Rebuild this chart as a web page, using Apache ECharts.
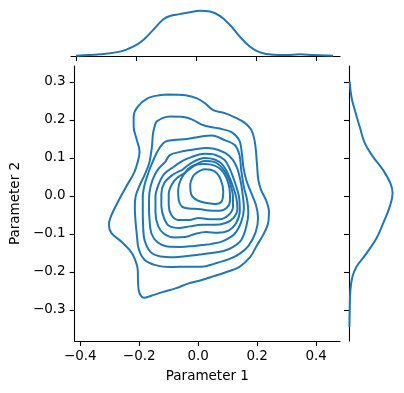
<!DOCTYPE html>
<html><head><meta charset="utf-8">
<script src="https://cdn.jsdelivr.net/npm/echarts@6/dist/echarts.min.js"></script>
<style>html,body{margin:0;padding:0;background:#fff}#c{width:404px;height:393px}</style>
</head><body><div id="c"></div>
<script>
// Tick labels
const xTicks = [-0.4, -0.2, 0, 0.2, 0.4];
const yTicks = [-0.3, -0.2, -0.1, 0, 0.1, 0.2, 0.3];
const xRange = [-0.419, 0.481];
const yRange = [-0.3816, 0.342];

// KDE contour levels (outer -> inner), [Parameter 1, Parameter 2]
const contour1 = [[-0.099,0.267],[-0.043,0.265],[-0.004,0.257],[0.023,0.244],[0.051,0.226],[0.090,0.218],[0.124,0.207],[0.157,0.193],[0.180,0.174],[0.191,0.147],[0.196,0.117],[0.200,0.077],[0.204,0.042],[0.213,0.016],[0.230,-0.011],[0.240,-0.041],[0.237,-0.072],[0.220,-0.103],[0.200,-0.129],[0.176,-0.161],[0.139,-0.187],[0.096,-0.200],[0.053,-0.211],[0.012,-0.221],[-0.032,-0.230],[-0.077,-0.243],[-0.121,-0.253],[-0.161,-0.263],[-0.183,-0.268],[-0.199,-0.256],[-0.204,-0.230],[-0.205,-0.195],[-0.216,-0.164],[-0.233,-0.142],[-0.261,-0.120],[-0.294,-0.098],[-0.303,-0.076],[-0.294,-0.050],[-0.272,-0.015],[-0.244,0.025],[-0.218,0.060],[-0.205,0.090],[-0.199,0.117],[-0.208,0.147],[-0.219,0.182],[-0.219,0.209],[-0.205,0.235],[-0.172,0.257],[-0.132,0.265]];
const contour2 = [[-0.143,0.195],[-0.121,0.205],[-0.095,0.209],[-0.049,0.208],[-0.015,0.199],[0.018,0.186],[0.068,0.178],[0.113,0.168],[0.139,0.147],[0.148,0.113],[0.153,0.077],[0.163,0.042],[0.180,0.008],[0.196,-0.024],[0.203,-0.058],[0.195,-0.095],[0.170,-0.132],[0.139,-0.153],[0.102,-0.167],[0.056,-0.178],[0.012,-0.186],[-0.038,-0.186],[-0.095,-0.187],[-0.145,-0.182],[-0.182,-0.168],[-0.202,-0.139],[-0.208,-0.103],[-0.213,-0.063],[-0.215,-0.029],[-0.212,0.000],[-0.198,0.029],[-0.182,0.055],[-0.166,0.087],[-0.157,0.129],[-0.153,0.166]];
const contour3 = [[-0.128,0.130],[-0.111,0.143],[-0.082,0.147],[-0.038,0.150],[0.006,0.156],[0.046,0.159],[0.090,0.147],[0.124,0.134],[0.140,0.108],[0.146,0.068],[0.155,0.024],[0.166,-0.011],[0.170,-0.045],[0.163,-0.081],[0.146,-0.116],[0.119,-0.134],[0.086,-0.145],[0.046,-0.150],[0.006,-0.154],[-0.038,-0.158],[-0.081,-0.161],[-0.128,-0.159],[-0.162,-0.147],[-0.182,-0.116],[-0.187,-0.076],[-0.188,-0.037],[-0.188,-0.003],[-0.182,0.029],[-0.168,0.063],[-0.155,0.089],[-0.141,0.113]];
const contour4 = [[-0.111,0.090],[-0.095,0.108],[-0.061,0.116],[-0.015,0.122],[0.029,0.126],[0.069,0.121],[0.106,0.105],[0.129,0.079],[0.143,0.042],[0.151,0.003],[0.155,-0.032],[0.146,-0.068],[0.123,-0.100],[0.086,-0.118],[0.046,-0.126],[0.012,-0.129],[-0.021,-0.132],[-0.061,-0.134],[-0.105,-0.133],[-0.138,-0.122],[-0.158,-0.100],[-0.165,-0.063],[-0.167,-0.024],[-0.165,0.011],[-0.155,0.042],[-0.138,0.068]];
const contour5 = [[-0.084,0.076],[-0.055,0.092],[-0.021,0.103],[0.022,0.111],[0.059,0.108],[0.089,0.095],[0.109,0.068],[0.126,0.032],[0.139,-0.005],[0.141,-0.039],[0.129,-0.071],[0.103,-0.091],[0.066,-0.097],[0.026,-0.095],[-0.011,-0.100],[-0.044,-0.108],[-0.081,-0.109],[-0.115,-0.100],[-0.136,-0.079],[-0.145,-0.042],[-0.145,-0.003],[-0.135,0.029],[-0.115,0.058]];
const contour6 = [[-0.055,0.068],[-0.021,0.088],[0.022,0.100],[0.056,0.096],[0.083,0.082],[0.103,0.055],[0.116,0.029],[0.129,-0.003],[0.133,-0.034],[0.119,-0.058],[0.093,-0.071],[0.053,-0.076],[0.012,-0.076],[-0.028,-0.080],[-0.065,-0.084],[-0.098,-0.079],[-0.116,-0.058],[-0.125,-0.026],[-0.125,0.005],[-0.115,0.034],[-0.088,0.055]];
const contour7 = [[-0.044,0.061],[-0.014,0.079],[0.022,0.092],[0.056,0.089],[0.079,0.076],[0.099,0.053],[0.111,0.026],[0.118,-0.003],[0.118,-0.029],[0.103,-0.050],[0.073,-0.061],[0.036,-0.061],[0.002,-0.058],[-0.031,-0.063],[-0.068,-0.063],[-0.091,-0.050],[-0.100,-0.024],[-0.100,0.005],[-0.088,0.032],[-0.068,0.050]];
const contour8 = [[-0.032,0.073],[-0.010,0.082],[0.022,0.084],[0.056,0.080],[0.079,0.068],[0.096,0.047],[0.106,0.020],[0.108,-0.011],[0.098,-0.030],[0.073,-0.039],[0.036,-0.038],[0.002,-0.034],[-0.031,-0.033],[-0.055,-0.028],[-0.066,-0.011],[-0.068,0.016],[-0.058,0.045]];
const contour9 = [[-0.015,0.055],[0.023,0.070],[0.057,0.064],[0.077,0.042],[0.085,0.011],[0.079,-0.015],[0.057,-0.021],[0.023,-0.018],[-0.004,-0.011],[-0.023,0.003],[-0.027,0.029]];
const contours = [contour1, contour2, contour3, contour4, contour5, contour6, contour7, contour8, contour9];

// Marginal densities
const margX = [-0.402,-0.322,-0.255,-0.211,-0.177,-0.144,-0.110,-0.088,-0.055,-0.021,0.012,0.046,0.079,0.113,0.146,0.180,0.213,0.258,0.302,0.346,0.392,0.458];
const margXDensity = [0.02,0.12,0.31,0.66,1.14,1.85,2.61,2.84,2.97,3.11,3.20,3.15,2.84,2.20,1.37,0.66,0.26,0.09,0.07,0.12,0.07,0.02];
const margY = [0.301,0.261,0.226,0.182,0.139,0.103,0.068,0.033,0.007,-0.028,-0.072,-0.111,-0.151,-0.186,-0.213,-0.247,-0.300,-0.344];
const margYDensity = [0.05,0.17,0.41,0.76,1.12,1.71,2.42,2.94,3.09,2.89,2.42,1.95,1.24,0.53,0.24,0.10,0.05,0.03];
const densityMax = 3.9;

const C0 = '#1f77b4';
const FONT = 'DejaVu Sans';
const fmt = v => (Math.abs(v) < 1e-9 ? '0.0' : v.toFixed(1).replace('-', '\u2212'));
const axisLine = {show: true, onZero: false, lineStyle: {color: '#000', width: 1.1}};
const tick = (vals) => ({show: true, length: 5, lineStyle: {color: '#000', width: 1.1}, customValues: vals});

const chart = echarts.init(document.getElementById('c'), null, {renderer: 'canvas'});
const series = contours.map(c => ({
  type: 'line', xAxisIndex: 0, yAxisIndex: 0,
  data: c.concat([c[0]]), smooth: 0.35, showSymbol: false, symbol: 'none',
  lineStyle: {color: C0, width: 2}, silent: true, animation: false, clip: false
}));
series.push({
  type: 'line', xAxisIndex: 1, yAxisIndex: 1,
  data: margX.map((x, i) => [x, margXDensity[i]]), smooth: 0.4, symbol: 'none',
  lineStyle: {color: C0, width: 2}, animation: false
});
series.push({
  type: 'line', xAxisIndex: 2, yAxisIndex: 2,
  data: margY.map((y, i) => [margYDensity[i], y]), smooth: 0.4, symbol: 'none',
  lineStyle: {color: C0, width: 2}, animation: false
});

chart.setOption({
  animation: false,
  backgroundColor: '#fff',
  grid: [
    {left: 71, top: 66, width: 269, height: 275},
    {left: 71, top: 1, width: 269, height: 55},
    {left: 349, top: 66, width: 55, height: 275}
  ],
  xAxis: [
    {gridIndex: 0, type: 'value', min: xRange[0], max: xRange[1], position: 'bottom', axisLine, axisTick: tick(xTicks),
     axisLabel: {customValues: xTicks, formatter: fmt, fontFamily: FONT, fontSize: 13.5, color: '#000', margin: 8},
     splitLine: {show: false}, name: 'Parameter 1', nameLocation: 'middle', nameGap: 28,
     nameTextStyle: {fontFamily: FONT, fontSize: 13.5, color: '#000'}},
    {gridIndex: 1, type: 'value', min: xRange[0], max: xRange[1], position: 'bottom', axisLine, axisTick: tick(xTicks),
     axisLabel: {show: false}, splitLine: {show: false}},
    {gridIndex: 2, type: 'value', min: 0, max: densityMax, show: false}
  ],
  yAxis: [
    {gridIndex: 0, type: 'value', min: yRange[0], max: yRange[1], position: 'left', axisLine, axisTick: tick(yTicks),
     axisLabel: {customValues: yTicks, formatter: fmt, fontFamily: FONT, fontSize: 13.5, color: '#000', margin: 9},
     splitLine: {show: false}, name: 'Parameter 2', nameLocation: 'middle', nameGap: 48, nameRotate: 90,
     nameTextStyle: {fontFamily: FONT, fontSize: 13.5, color: '#000'}},
    {gridIndex: 1, type: 'value', min: 0, max: densityMax, show: false},
    {gridIndex: 2, type: 'value', min: yRange[0], max: yRange[1], position: 'left', axisLine, axisTick: tick(yTicks),
     axisLabel: {show: false}, splitLine: {show: false}}
  ],
  series
});
</script>
</body></html>
